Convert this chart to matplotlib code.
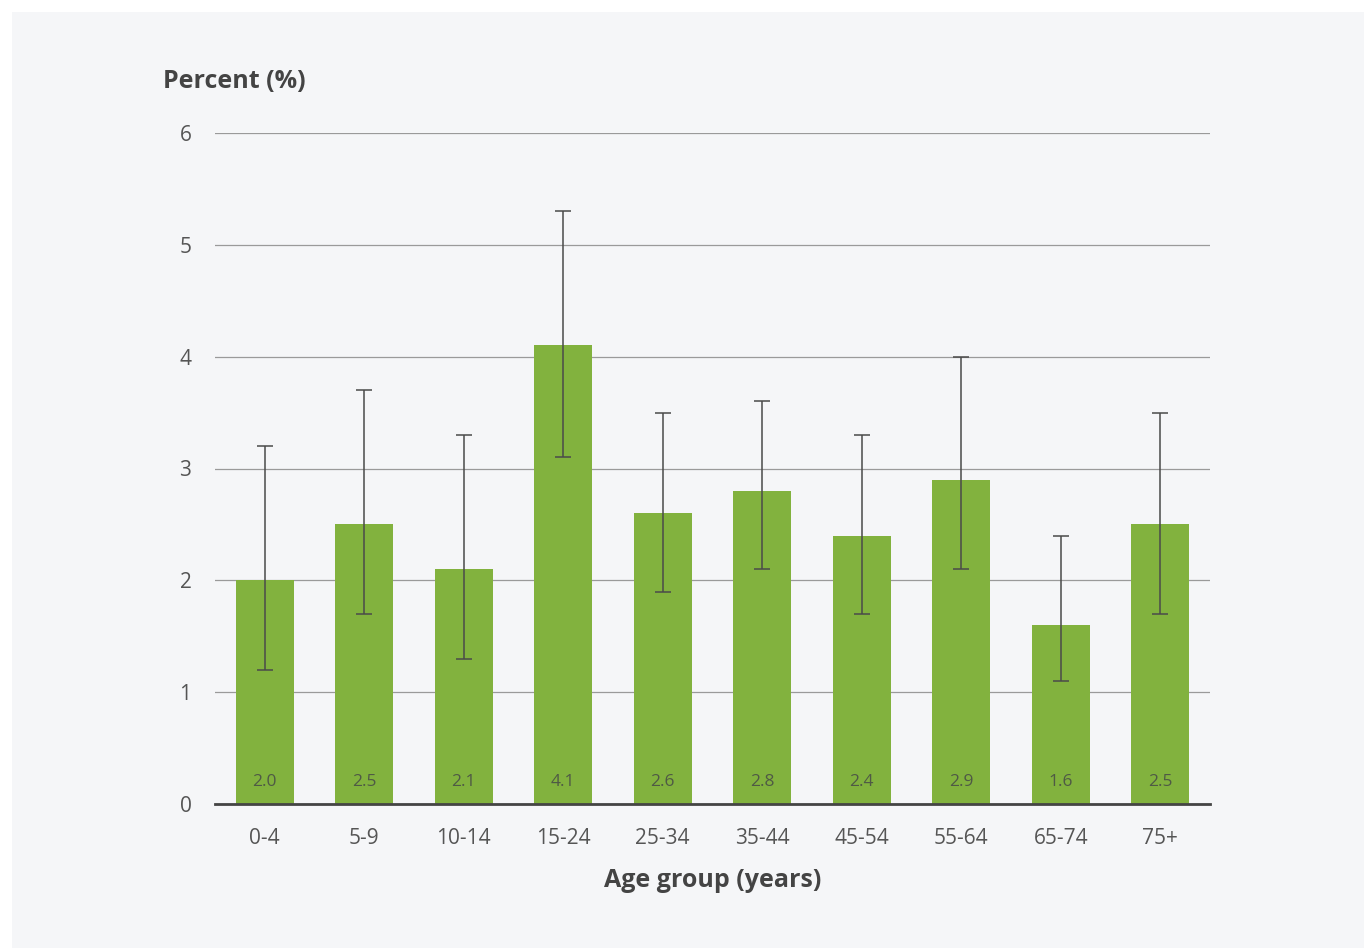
import matplotlib
matplotlib.use("Agg")
import matplotlib.pyplot as plt
from matplotlib.patches import Rectangle

plt.rcParams['font.family'] = ['Open Sans', 'DejaVu Sans']

age_groups = ["0-4", "5-9", "10-14", "15-24", "25-34", "35-44", "45-54", "55-64", "65-74", "75+"]
percent = [2.0, 2.5, 2.1, 4.1, 2.6, 2.8, 2.4, 2.9, 1.6, 2.5]
ci_low = [1.2, 1.7, 1.3, 3.1, 1.9, 2.1, 1.7, 2.1, 1.1, 1.7]
ci_high = [3.2, 3.7, 3.3, 5.3, 3.5, 3.6, 3.3, 4.0, 2.4, 3.5]
y_ticks = [0, 1, 2, 3, 4, 5, 6]

W, H = 1364, 948
fig = plt.figure(figsize=(W / 100, H / 100), dpi=100)
fig.patch.set_facecolor("white")

# light panel behind the chart
panel_bg = "#F5F6F8"
fig.patches.append(Rectangle((12 / W, 0), 1 - 12 / W, 1 - 12 / H,
                             transform=fig.transFigure, facecolor=panel_bg,
                             edgecolor="none", zorder=-10))

ax = fig.add_axes([215 / W, 1 - 804 / H, (1210 - 215) / W, (804 - 133) / H])
ax.set_zorder(5)
ax.set_facecolor("none")

x = list(range(len(age_groups)))
err_lo = [p - l for p, l in zip(percent, ci_low)]
err_hi = [h - p for p, h in zip(percent, ci_high)]

ax.bar(x, percent, width=0.585, color="#82B23E", zorder=2)
ax.errorbar(x, percent, yerr=[err_lo, err_hi], fmt="none", ecolor="#4a4a4a",
            elinewidth=1.1, capsize=6, capthick=1.1, zorder=3)

for xi, v in zip(x, percent):
    ax.text(xi, 0.2, f"{v:.1f}", ha="center", va="center",
            fontsize=12.5, color="#4f5a45", zorder=4)

ax.set_xlim(-0.5, len(age_groups) - 0.5)
ax.set_ylim(0, 6)
ax.set_yticks(y_ticks)
ax.set_yticklabels([str(t) for t in y_ticks])
ax.set_xticks(x)
ax.set_xticklabels(age_groups)

ax.grid(axis="y", color="#9a9a9a", linewidth=0.9, zorder=1)
ax.set_axisbelow(True)
for s in ["top", "right", "left"]:
    ax.spines[s].set_visible(False)
ax.spines["bottom"].set_color("#444444")
ax.spines["bottom"].set_linewidth(2)
ax.spines["bottom"].set_zorder(5)

ax.tick_params(axis="both", length=0, labelsize=15, colors="#555555")
ax.tick_params(axis="y", pad=17)
ax.tick_params(axis="x", pad=17)

ax.set_xlabel("Age group (years)", fontsize=18, fontweight="bold",
              color="#444444", labelpad=14)

fig.text(163 / W, 1 - 82 / H, "Percent (%)", fontsize=18, fontweight="bold",
         color="#444444", ha="left", va="center")

fig.savefig("out.png", dpi=100, facecolor=fig.get_facecolor())
